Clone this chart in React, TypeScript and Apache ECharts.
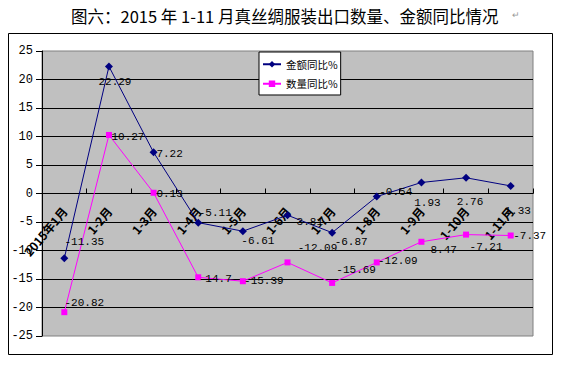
import React, { useEffect, useRef } from "react";
import * as echarts from "echarts";

const categories = ["2015年1月", "1-2月", "1-3月", "1-4月", "1-5月", "1-6月", "1-7月", "1-8月", "1-9月", "1-10月", "1-11月"];
const amountYoY = [-11.35, 22.29, 7.22, -5.11, -6.61, -3.81, -6.87, -0.54, 1.93, 2.76, 1.33];
const quantityYoY = [-20.82, 10.27, 0.13, -14.7, -15.39, -12.09, -15.69, -12.09, -8.47, -7.21, -7.37];
const seriesNames = ["金额同比%", "数量同比%"];
const titleText = "图六：2015 年 1-11 月真丝绸服装出口数量、金额同比情况";

// label centre offsets (style only)
const amountLabelOffsets = [[20, -16], [6, 16], [16, 2], [17, -10], [15, 10], [19, 7], [19, 9], [19, -5], [6, 21], [4, 24], [7, 25]];
const quantityLabelOffsets = [[20, -9], [19, 2], [16, 1], [17, 2], [21, 0], [30, -14], [24, -13], [21, -1], [19, 8], [20, 12], [19, 0]];

const numFont = "'Liberation Mono', 'DejaVu Sans Mono', monospace";
const cjkFont = "'Noto Sans CJK SC', sans-serif";

const GRID_TOP = 51;
const GRID_BOTTOM = 32;
const CHART_H = 368;

function buildData(values: number[], offsets: number[][]) {
  return values.map((v, i) => ({
    value: v,
    label: { offset: offsets[i] },
  }));
}

export default function App() {
  const ref = useRef<HTMLDivElement>(null);
  useEffect(() => {
    if (!ref.current) return;
    const chart = echarts.init(ref.current, null, { renderer: "svg" });
    const yMin = -25;
    const yMax = 25;
    const plotH = CHART_H - GRID_TOP - GRID_BOTTOM;
    const zeroShift = -(plotH * (0 - yMin)) / (yMax - yMin);
    const labelCommon = {
      show: true,
      position: "inside",
      color: "#000",
      fontFamily: numFont,
      fontSize: 11,
      formatter: (p: any) => String(p.value),
    };
    chart.setOption({
      animation: false,
      backgroundColor: "#fff",
      title: {
        text: titleText,
        left: 66,
        top: 3,
        textStyle: { fontFamily: cjkFont, fontSize: 16.5, fontWeight: "normal", color: "#000" },
      },
      graphic: [
        {
          type: "rect",
          shape: { x: 8.5, y: 33.5, width: 544, height: 321 },
          style: { fill: "none", stroke: "#000", lineWidth: 1 },
          silent: true,
          z: 0,
        },
        {
          type: "text",
          x: 512,
          y: 10,
          style: { text: "↵", fill: "#999", fontSize: 9, fontFamily: cjkFont },
        },
      ],
      legend: {
        orient: "vertical",
        left: 259,
        top: 52,
        padding: [7, 3, 6, 3],
        itemGap: 9,
        itemWidth: 18,
        itemHeight: 8,
        backgroundColor: "#fff",
        borderColor: "#000",
        borderWidth: 1,
        borderRadius: 0,
        textStyle: { fontFamily: cjkFont, fontSize: 10.5, color: "#000" },
        data: seriesNames,
      },
      grid: {
        left: 42,
        right: 29,
        top: GRID_TOP,
        bottom: GRID_BOTTOM,
        show: true,
        backgroundColor: "#C0C0C0",
        borderColor: "#808080",
        borderWidth: 1,
        containLabel: false,
      },
      xAxis: {
        type: "category",
        data: categories,
        boundaryGap: true,
        offset: zeroShift,
        axisLine: { show: true, onZero: false, lineStyle: { color: "#000", width: 1 } },
        axisTick: { show: true, inside: true, length: 5, alignWithLabel: false, lineStyle: { color: "#000" } },
        axisLabel: {
          rotate: 50,
          margin: 15,
          interval: 0,
          color: "#000",
          fontFamily: cjkFont,
          fontWeight: "bold",
          fontSize: 12,
        },
        splitLine: { show: false },
      },
      yAxis: {
        type: "value",
        min: yMin,
        max: yMax,
        interval: 5,
        axisLine: { show: true, lineStyle: { color: "#000" } },
        axisTick: { show: true, inside: false, length: 6, lineStyle: { color: "#000" } },
        axisLabel: { color: "#000", fontFamily: numFont, fontSize: 12, margin: 9 },
        splitLine: { show: true, showMinLine: false, showMaxLine: false, lineStyle: { color: "#000", width: 1 } },
      },
      series: [
        {
          name: seriesNames[0],
          type: "line",
          data: buildData(amountYoY, amountLabelOffsets),
          symbol: "diamond",
          symbolSize: 8,
          lineStyle: { color: "#000080", width: 1 },
          itemStyle: { color: "#000080" },
          label: labelCommon,
          z: 3,
        },
        {
          name: seriesNames[1],
          type: "line",
          data: buildData(quantityYoY, quantityLabelOffsets),
          symbol: "rect",
          symbolSize: 6,
          lineStyle: { color: "#FF00FF", width: 1 },
          itemStyle: { color: "#FF00FF" },
          label: labelCommon,
          z: 3,
        },
      ],
    });
    return () => chart.dispose();
  }, []);
  return (
    <div
      ref={ref}
      style={{ position: "fixed", left: 0, top: 0, width: 562, height: 368 }}
    />
  );
}
